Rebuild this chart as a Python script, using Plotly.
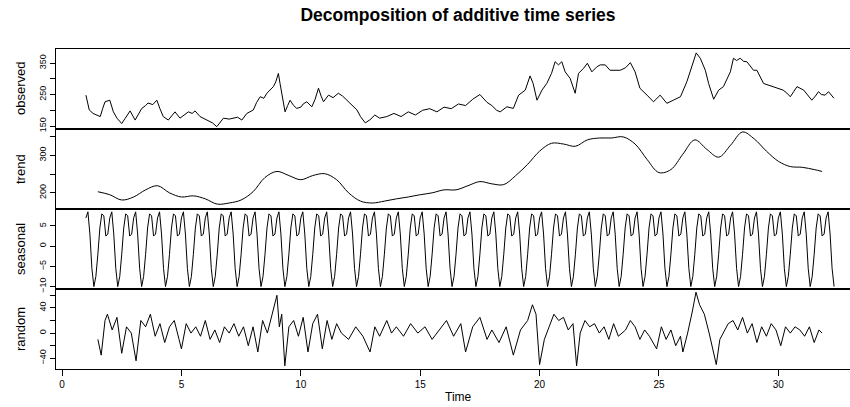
import numpy as np
import plotly.graph_objects as go
from plotly.subplots import make_subplots

# ---------------- data ----------------
obs_t = [1.0, 1.14, 1.3, 1.45, 1.6, 1.7, 1.8, 2.0, 2.15, 2.3, 2.5, 2.65, 2.85, 3.06, 3.2, 3.34, 3.5, 3.6, 3.8, 3.97,
         4.1, 4.24, 4.45, 4.6, 4.73, 4.94, 5.1, 5.29, 5.45, 5.57, 5.78, 6.06, 6.3, 6.48, 6.6, 6.76, 7.0, 7.18, 7.35, 7.53,
         7.74, 8.01, 8.15, 8.3, 8.45, 8.58, 8.7, 8.85, 8.95, 9.06, 9.13, 9.25, 9.34, 9.45, 9.55, 9.7, 9.83, 10.0, 10.1, 10.25,
         10.46, 10.6, 10.74, 10.85, 10.95, 11.16, 11.35, 11.57, 11.75, 11.93, 12.1, 12.35, 12.5, 12.7, 12.9, 13.1, 13.3, 13.6, 13.9, 14.2,
         14.5, 14.8, 15.1, 15.4, 15.7, 16.0, 16.3, 16.6, 16.9, 17.2, 17.5, 17.8, 18.0, 18.2, 18.35, 18.63, 18.9, 19.12, 19.4, 19.6,
         19.73, 19.89, 20.1, 20.3, 20.5, 20.65, 20.79, 20.93, 21.07, 21.28, 21.49, 21.63, 21.84, 22.0, 22.19, 22.4, 22.54, 22.75, 22.95, 23.2,
         23.38, 23.6, 23.8, 24.0, 24.2, 24.5, 24.77, 25.05, 25.33, 25.6, 25.9, 26.17, 26.38, 26.56, 26.73, 26.94, 27.08, 27.29, 27.5, 27.7,
         27.99, 28.12, 28.25, 28.4, 28.55, 28.68, 28.96, 29.1, 29.38, 29.6, 29.8, 30.0, 30.2, 30.35, 30.5, 30.65, 30.78, 31.06, 31.2, 31.4,
         31.55, 31.68, 31.8, 31.96, 32.1, 32.33]
obs_v = [248, 201, 190, 185, 180, 205, 227, 232, 195, 175, 158, 175, 198, 169, 190, 206, 215, 223, 218, 232,
         205, 180, 169, 185, 195, 175, 185, 195, 190, 198, 180, 169, 160, 148, 160, 175, 172, 175, 178, 169,
         190, 201, 225, 243, 238, 254, 262, 275, 290, 317, 285, 230, 195, 215, 232, 215, 206, 210, 220, 227,
         211, 235, 270, 245, 227, 248, 240, 254, 245, 232, 220, 201, 180, 160, 170, 185, 175, 180, 190, 180,
         195, 185, 200, 205, 195, 210, 205, 220, 215, 235, 250, 225, 215, 200, 195, 211, 206, 248, 264, 309,
         285, 232, 264, 285, 317, 354, 344, 354, 322, 301, 254, 317, 333, 349, 322, 338, 344, 344, 327, 327,
         327, 335, 351, 322, 270, 248, 227, 248, 222, 232, 243, 291, 338, 382, 365, 327, 285, 235, 264, 275,
         322, 365, 358, 365, 355, 354, 327, 327, 285, 280, 275, 270, 264, 255, 243, 260, 275, 264, 250, 232,
         245, 259, 250, 248, 259, 238]

trend_t = [1.5, 2.0, 2.5, 3.0, 3.5, 4.0, 4.5, 5.0, 5.5, 6.0, 6.5, 7.0, 7.5, 8.0, 8.5, 9.0, 9.5, 10.0, 10.5, 11.0,
           11.5, 12.0, 12.5, 13.0, 13.5, 14.0, 14.5, 15.0, 15.5, 16.0, 16.5, 17.0, 17.5, 18.0, 18.5, 19.0, 19.5, 20.0, 20.5, 21.0,
           21.5, 22.0, 22.5, 23.0, 23.5, 24.0, 24.5, 25.0, 25.5, 26.0, 26.5, 27.0, 27.5, 28.0, 28.5, 29.0, 29.5, 30.0, 30.5, 31.0,
           31.5, 31.83]
trend_v = [203, 195, 181, 189, 208, 219, 200, 189, 192, 184, 170, 173, 181, 203, 241, 257, 246, 235, 246, 251,
           235, 200, 178, 173, 178, 184, 189, 195, 200, 208, 208, 219, 230, 224, 222, 246, 276, 311, 332, 330,
           324, 341, 346, 346, 349, 330, 289, 254, 262, 303, 341, 316, 295, 327, 362, 343, 311, 284, 270, 268,
           262, 257]

# seasonal figure (one period, frequency 12), repeated over the series
seasonal_figure = [7.0, 8.5, 3.0, -5.5, -10.0, -7.5, -2.0, 4.5, 8.0, 7.5, 2.5, 3.0]
series_start = 1.0
series_freq = 12
series_len = 377

random_t = [1.5, 1.64, 1.8, 1.9, 2.1, 2.3, 2.5, 2.7, 2.9, 3.1, 3.3, 3.5, 3.7, 3.9, 4.1, 4.3, 4.5, 4.7, 4.9, 5.0,
            5.2, 5.4, 5.6, 5.8, 6.0, 6.2, 6.4, 6.6, 6.8, 7.0, 7.2, 7.4, 7.6, 7.8, 8.0, 8.2, 8.4, 8.6, 8.8, 9.0,
            9.1, 9.2, 9.33, 9.5, 9.7, 9.9, 10.1, 10.3, 10.5, 10.7, 10.9, 11.1, 11.3, 11.5, 11.7, 12.0, 12.3, 12.6, 12.9, 13.1,
            13.3, 13.6, 13.8, 14.0, 14.3, 14.6, 14.9, 15.2, 15.5, 15.8, 16.1, 16.4, 16.7, 16.9, 17.2, 17.5, 17.8, 18.0, 18.3, 18.6,
            18.9, 19.2, 19.5, 19.7, 19.85, 20.0, 20.2, 20.4, 20.6, 20.8, 21.0, 21.2, 21.4, 21.55, 21.7, 21.9, 22.1, 22.3, 22.5, 22.7,
            22.9, 23.1, 23.3, 23.6, 23.8, 24.0, 24.2, 24.4, 24.6, 24.9, 25.1, 25.3, 25.5, 25.7, 25.9, 26.0, 26.2, 26.4, 26.55, 26.7,
            26.9, 27.1, 27.25, 27.4, 27.55, 27.7, 27.9, 28.1, 28.3, 28.5, 28.7, 28.9, 29.1, 29.3, 29.5, 29.7, 29.9, 30.1, 30.3, 30.5,
            30.7, 30.9, 31.1, 31.3, 31.5, 31.7, 31.83]
random_v = [-10, -35, 20, 30, 5, 25, -32, 10, 0, -44, 20, 10, 30, -5, 15, -15, 10, 20, -10, -25,
            15, 0, 10, -5, 20, -10, 5, -15, 10, 0, 15, -5, 10, -20, 10, -30, 20, 0, 30, 60,
            10, 30, -52, 10, 20, -5, 25, -30, 15, 30, -25, 20, -10, 15, 0, -10, 10, -5, -30, 10,
            -5, 20, 0, 10, -5, 15, 0, 10, -10, 5, 20, -5, 15, -30, 10, 25, -10, 5, -15, 10,
            -35, 5, 20, 45, 30, -50, -10, 10, 30, 20, 25, 5, 15, -52, 0, 20, 10, 15, 0, 10,
            -10, 15, -5, 5, 20, 10, -10, 5, -5, -25, 10, -10, 5, -20, -5, -30, 0, 35, 65, 45,
            30, 0, -25, -50, -10, 0, 15, 20, 5, 25, 0, 15, -15, 10, -5, 15, 5, -20, 10, 0,
            10, 5, -5, 10, -15, 5, 0]

x_ticks = [0, 5, 10, 15, 20, 25, 30]

# ---------------- figure ----------------
seas_t = series_start + np.arange(series_len) / series_freq
seas_v = np.tile(seasonal_figure, series_len // series_freq + 1)[:series_len]

fig = make_subplots(rows=4, cols=1, shared_xaxes=True, vertical_spacing=0)
line = dict(color="black", width=1)
fig.add_trace(go.Scatter(x=obs_t, y=obs_v, mode="lines", line=line), row=1, col=1)
fig.add_trace(go.Scatter(x=trend_t, y=trend_v, mode="lines", line=line, line_shape="spline"), row=2, col=1)
fig.add_trace(go.Scatter(x=seas_t, y=seas_v, mode="lines", line=line), row=3, col=1)
fig.add_trace(go.Scatter(x=random_t, y=random_v, mode="lines", line=line), row=4, col=1)

font_family = "Liberation Sans, Arial, sans-serif"
fig.update_layout(
    width=850, height=407,
    margin=dict(l=56, r=0, t=49, b=38),
    plot_bgcolor="white", paper_bgcolor="white",
    showlegend=False,
    font=dict(family=font_family, color="black"),
    title=dict(text="<b>Decomposition of additive time series</b>", x=458 / 850, xanchor="center",
               y=1 - 15 / 407, yanchor="middle", xref="container", yref="container",
               font=dict(size=17.5, family=font_family, color="black")),
)

fig.update_xaxes(range=[-0.253, 33.0], showline=True, linecolor="black", linewidth=1, mirror=True,
                 showgrid=False, zeroline=False, ticks="", showticklabels=False)
fig.update_xaxes(row=4, col=1, ticks="outside", ticklen=6, tickcolor="black", tickvals=x_ticks,
                 showticklabels=True, tickfont=dict(size=10))

yspecs = [
    dict(range=[140.6, 394.4], tickvals=[150, 250, 350], minor=[200, 300]),
    dict(range=[157, 370], tickvals=[200, 300], minor=[250, 350]),
    dict(range=[-10.6, 9.2], tickvals=[-10, -5, 0, 5], minor=[]),
    dict(range=[-57, 70], tickvals=[-40, 0, 40], minor=[-20, 20, 60]),
]
for i, s in enumerate(yspecs, start=1):
    fig.update_yaxes(row=i, col=1, range=s["range"], tickvals=s["tickvals"], tickangle=-90,
                     ticks="outside", ticklen=5, tickcolor="black", showline=True, linecolor="black",
                     linewidth=1, showgrid=False, zeroline=False, tickfont=dict(size=9),
                     minor=dict(tickvals=s["minor"], ticks="outside", ticklen=5, tickcolor="black",
                                showgrid=False))

labels = ["observed", "trend", "seasonal", "random"]
for i, lab in enumerate(labels, start=1):
    yref = "y domain" if i == 1 else f"y{i} domain"
    fig.add_annotation(text=lab, x=(20 - 56) / 794, xref="paper", y=0.5, yref=yref,
                       textangle=-90, showarrow=False, xanchor="center", yanchor="middle",
                       font=dict(size=13, family=font_family, color="black"))

fig.add_annotation(text="Time", x=(458 - 56) / 794, xref="paper", y=(369 - 397) / 320, yref="paper",
                   showarrow=False, xanchor="center", yanchor="middle",
                   font=dict(size=12, family=font_family, color="black"))

fig.write_html("out.html", config={"displayModeBar": False},
               post_script="document.body.style.margin='0';document.body.style.overflow='hidden';")
